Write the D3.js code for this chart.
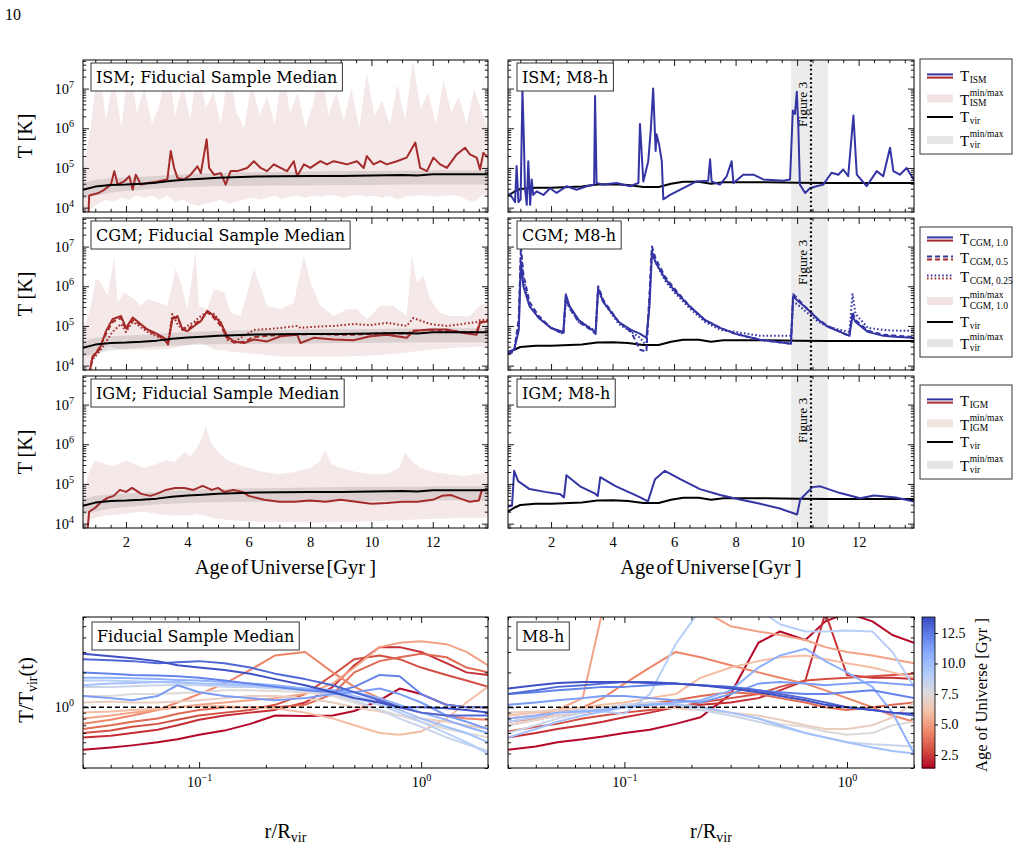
<!DOCTYPE html>
<html>
<head>
<meta charset="utf-8">
<script src="https://cdn.jsdelivr.net/npm/d3@7"></script>
<style>
  body { margin: 0; background: #fff; }
  svg text { font-family: "Liberation Serif", "Times New Roman", serif; fill: #000; }
</style>
</head>
<body>
<svg id="fig" width="1023" height="855"></svg>
<script>
// ---- data (temperatures stored as log10 T [K]) ----
const ismBandAge = [0.6,0.85,1.1,1.35,1.6,1.85,2.1,2.35,2.6,2.85,3.1,3.35,3.6,3.85,4.1,4.35,4.6,4.85,5.1,5.35,5.6,5.85,6.1,6.35,6.6,6.85,7.1,7.35,7.6,7.85,8.1,8.35,8.6,8.85,9.1,9.35,9.6,9.85,10.1,10.35,10.6,10.85,11.1,11.35,11.6,11.85,12.1,12.35,12.6,12.85,13.1,13.35,13.6,13.8];
const ismBandHi = [5.0,6.0,7.7,6.2,7.3,6.0,7.7,6.4,7.0,6.1,6.6,7.7,6.3,7.1,6.2,7.7,6.5,6.9,6.1,7.6,6.4,6.0,7.2,6.3,6.8,6.1,7.5,6.4,6.9,6.0,6.6,7.7,6.3,6.9,6.2,7.0,6.0,7.4,6.3,6.7,6.1,7.1,6.2,7.7,6.5,6.9,6.1,7.2,6.4,6.8,6.1,7.0,6.4,6.0];
const ismBandLo = [3.88,3.95,4.1,4.2,4.15,4.25,4.2,4.3,4.25,4.3,4.2,4.3,4.15,4.2,4.1,4.05,4.1,4.15,4.2,4.1,4.15,4.2,4.25,4.2,4.25,4.3,4.22,4.28,4.3,4.25,4.3,4.28,4.32,4.3,4.25,4.3,4.32,4.28,4.3,4.25,4.3,4.2,4.28,4.3,4.32,4.3,4.28,4.3,4.32,4.3,4.2,4.15,4.3,4.32];
const ismFidAge = [0.78,0.8,0.86,1.08,1.29,1.51,1.62,1.73,1.94,2.11,2.22,2.32,2.49,2.7,3.03,3.35,3.46,3.57,3.68,3.89,4.11,4.33,4.44,4.63,4.71,4.87,5.09,5.25,5.41,5.63,5.95,6.17,6.39,6.6,6.82,7.04,7.25,7.47,7.58,7.8,8.01,8.34,8.55,8.77,8.99,9.2,9.53,9.75,9.85,10.07,10.29,10.5,10.83,11.15,11.43,11.59,11.81,12.02,12.24,12.46,12.78,13.05,13.21,13.43,13.54,13.65,13.81];
const ismFidLog = [3.85,4.3,4.32,4.36,4.45,4.58,4.92,4.58,4.66,4.79,4.45,4.83,4.58,4.62,4.66,4.71,5.43,5.0,4.75,4.71,4.83,5.04,4.87,5.72,5.0,4.83,4.87,4.58,4.92,4.92,5.0,5.17,5.0,4.92,5.09,5.0,4.92,5.17,4.79,5.09,5.0,5.17,5.09,5.17,5.13,5.09,5.17,5.0,5.3,5.09,5.17,5.09,5.17,5.26,5.64,5.0,4.92,5.26,5.09,5.0,5.34,5.51,5.34,5.26,4.96,5.38,5.26];

const cgmBandAge = [0.6,0.75,0.86,1.02,1.18,1.4,1.62,1.73,1.94,2.27,2.49,2.7,3.03,3.35,3.62,3.79,4.0,4.27,4.38,4.65,4.87,5.2,5.41,5.74,6.17,6.6,7.04,7.47,7.8,8.01,8.34,8.77,9.2,9.53,9.85,10.29,10.72,11.15,11.32,11.48,11.7,11.91,12.24,12.56,12.89,13.21,13.54,13.81];
const cgmBandHi = [4.9,5.2,5.51,6.19,6.1,5.76,6.74,5.59,5.84,5.68,5.51,5.68,5.59,5.51,6.44,6.1,5.42,6.87,5.51,5.42,5.93,5.84,5.33,5.25,6.44,5.51,5.42,5.59,6.78,6.1,5.51,5.25,5.42,5.42,5.17,5.51,5.51,5.25,6.78,6.1,6.27,5.68,5.33,5.25,5.25,5.25,5.51,5.59];
const cgmBandLo = [3.8,3.8,4.1,4.23,4.35,4.48,4.45,4.42,4.4,4.4,4.4,4.4,4.4,4.42,4.45,4.48,4.5,4.55,4.57,4.5,4.4,4.38,4.35,4.33,4.3,4.27,4.23,4.23,4.23,4.23,4.23,4.23,4.23,4.24,4.25,4.27,4.3,4.33,4.35,4.36,4.38,4.4,4.42,4.44,4.46,4.47,4.48,4.48];
const cgmFidAge = [0.81,0.91,1.13,1.35,1.56,1.84,2.0,2.22,2.43,2.7,2.97,3.24,3.37,3.51,3.68,3.84,4.0,4.22,4.44,4.65,4.87,5.09,5.3,5.52,5.85,6.17,6.6,7.04,7.58,7.69,8.12,8.77,9.42,9.96,10.5,11.15,11.37,11.91,12.46,13.0,13.43,13.54,13.81];
const cgmFid10 = [3.8,4.23,4.4,4.87,5.17,5.25,4.95,5.21,5.08,4.91,4.82,4.7,4.53,5.17,5.25,4.91,4.87,5.0,5.12,5.38,5.25,5.08,4.74,4.61,4.57,4.66,4.61,4.74,4.78,4.57,4.7,4.66,4.64,4.74,4.78,4.7,4.87,4.91,4.91,4.82,4.78,5.08,5.12];
const cgmFid05 = [3.8,4.2,4.45,4.8,5.1,5.2,4.9,5.15,5.05,4.9,4.78,4.68,4.55,5.2,5.2,4.95,4.9,5.05,5.15,5.35,5.2,5.0,4.7,4.58,4.6,4.72,4.75,4.78,4.8,4.78,4.8,4.78,4.78,4.8,4.82,4.8,4.88,4.9,4.88,4.85,4.85,5.1,5.12];
const cgmFid025 = [3.8,4.15,4.35,4.6,4.85,5.05,4.85,5.1,5.0,4.85,4.75,4.65,4.55,5.3,5.05,4.9,5.0,5.1,5.25,5.35,5.3,5.1,4.65,4.6,4.75,4.9,4.92,4.95,5.0,4.95,4.98,5.0,5.05,5.02,5.08,5.0,5.2,5.05,5.0,5.05,5.1,5.15,5.15];

const igmBandAge = [0.6,0.7,0.8,1.0,1.3,1.6,2.0,2.3,2.6,3.0,3.3,3.6,3.9,4.1,4.3,4.45,4.6,4.8,5.0,5.3,5.6,6.0,6.5,7.0,7.5,8.0,8.3,8.5,8.7,9.0,9.5,10.0,10.5,10.9,11.1,11.3,11.6,12.0,12.5,13.0,13.5,13.8];
const igmBandHi = [4.5,5.0,5.3,5.6,5.5,5.45,5.6,5.5,5.4,5.5,5.6,5.55,5.8,5.7,5.9,6.1,6.45,6.0,5.8,5.6,5.5,5.4,5.3,5.25,5.3,5.4,5.55,5.85,5.5,5.4,5.3,5.25,5.25,5.4,5.8,5.6,5.4,5.3,5.25,5.2,5.25,5.3];
const igmBandLo = [3.85,4.0,4.1,4.15,4.2,4.22,4.25,4.28,4.3,4.25,4.22,4.2,4.22,4.2,4.25,4.22,4.2,4.15,4.12,4.1,4.08,4.06,4.05,4.04,4.04,4.03,4.03,4.04,4.04,4.04,4.05,4.06,4.07,4.08,4.09,4.1,4.11,4.12,4.13,4.15,4.15,4.16];
const igmFidAge = [0.75,0.8,0.9,1.0,1.2,1.4,1.6,1.8,2.0,2.2,2.5,2.8,3.0,3.3,3.6,3.9,4.2,4.5,4.8,5.0,5.2,5.5,5.8,6.0,6.5,7.0,7.5,8.0,8.5,9.0,9.5,10.0,10.5,11.0,11.5,12.0,12.3,12.6,12.9,13.2,13.5,13.6,13.8];
const igmFidLog = [3.85,4.3,4.35,4.4,4.55,4.65,4.7,4.85,4.8,4.9,4.75,4.7,4.75,4.85,4.9,4.9,4.85,4.95,4.85,4.9,4.8,4.85,4.8,4.7,4.6,4.55,4.55,4.58,4.55,4.6,4.55,4.5,4.52,4.55,4.55,4.6,4.7,4.72,4.63,4.55,4.58,4.85,4.85];

const tvirFidAge = [0.6,1.0,1.5,2.0,2.5,3.0,3.5,4.0,4.5,5.0,6.0,7.0,8.0,9.0,10.0,11.0,11.5,12.0,13.0,13.8];
const tvirFidLog = [4.45,4.53,4.57,4.58,4.6,4.63,4.68,4.71,4.73,4.75,4.78,4.79,4.8,4.8,4.81,4.82,4.81,4.84,4.84,4.84];
const tvirFidLo = [4.22,4.3,4.38,4.42,4.45,4.48,4.5,4.52,4.53,4.54,4.55,4.56,4.56,4.57,4.57,4.58,4.58,4.58,4.58,4.58];
const tvirFidHi = [4.62,4.7,4.74,4.76,4.78,4.8,4.83,4.85,4.86,4.87,4.89,4.9,4.91,4.92,4.92,4.93,4.93,4.94,4.94,4.94];

const tvirM8Age = [0.6,0.8,1.0,1.5,2.0,3.0,3.5,4.0,4.5,5.0,5.5,5.9,6.3,6.8,7.2,7.6,8.0,9.0,10.0,11.0,12.0,13.0,13.8];
const tvirM8Log = [4.3,4.4,4.47,4.5,4.5,4.53,4.58,4.59,4.57,4.52,4.52,4.6,4.65,4.65,4.6,4.64,4.64,4.64,4.63,4.62,4.62,4.62,4.62];

const ismM8Age = [0.64,0.83,0.88,0.94,1.01,1.07,1.12,1.15,1.21,1.26,1.32,1.37,1.42,1.53,1.75,1.97,2.18,2.51,2.83,3.16,3.4,3.43,3.48,3.7,4.13,4.57,4.84,4.89,5.0,5.16,5.24,5.32,5.4,5.43,5.51,5.6,5.65,5.87,6.3,6.73,7.11,7.17,7.22,7.49,7.71,7.87,7.93,8.25,8.58,8.9,9.55,9.77,9.86,9.93,9.99,10.04,10.09,10.26,10.42,10.63,10.85,11.12,11.34,11.5,11.66,11.83,11.94,12.26,12.59,12.8,13.02,13.13,13.34,13.56,13.8];
const ismM8Log = [4.37,4.14,5.05,4.14,4.21,6.96,5.6,4.49,4.07,5.17,4.07,4.71,4.32,4.41,4.32,4.49,4.37,4.54,4.45,4.54,4.58,6.81,4.62,4.58,4.62,4.54,4.62,6.11,4.66,5.17,5.94,7.0,5.43,5.85,5.6,5.17,4.21,4.32,4.49,4.66,4.68,5.22,4.66,4.58,4.79,5.17,4.62,4.83,4.83,4.71,4.68,4.71,6.45,6.36,6.92,6.02,4.58,4.37,4.49,4.54,4.58,4.88,4.83,4.96,4.79,6.32,4.83,4.54,4.92,4.79,5.51,4.92,4.83,5.0,4.7];

const cgmM8Age = [0.6,0.8,0.95,1.02,1.1,1.3,1.6,2.0,2.4,2.48,2.6,2.9,3.3,3.45,3.53,3.7,4.2,4.6,4.9,5.1,5.2,5.28,5.4,5.7,6.0,6.5,7.0,7.5,8.0,8.8,9.5,9.8,9.87,10.0,10.3,10.7,11.0,11.4,11.7,11.8,11.9,12.3,12.8,13.3,13.8];
const cgmM810 = [4.35,4.4,4.9,6.6,6.0,5.5,5.2,4.95,4.85,5.8,5.5,5.15,4.92,4.85,5.95,5.6,5.1,4.9,4.8,4.7,5.5,6.85,6.6,6.2,5.9,5.5,5.15,4.95,4.8,4.65,4.58,4.55,5.75,5.65,5.45,5.15,4.98,4.85,4.75,5.25,5.1,4.85,4.75,4.72,4.7];
const cgmM805 = [4.3,4.35,5.2,7.0,6.3,5.6,5.25,4.95,4.8,5.7,5.45,5.1,4.9,4.8,6.0,5.65,5.1,4.85,4.4,4.35,5.8,7.0,6.7,6.25,5.95,5.5,5.15,4.95,4.8,4.65,4.58,4.55,5.8,5.7,5.45,5.15,5.0,4.85,4.75,5.35,5.15,4.88,4.78,4.75,4.72];
const cgmM8025 = [4.3,4.4,5.0,6.8,6.2,5.5,5.2,4.95,4.8,5.65,5.45,5.1,4.95,4.85,5.9,5.6,5.05,4.85,4.7,4.5,5.7,6.9,6.6,6.15,5.85,5.45,5.1,4.9,4.85,4.75,4.75,4.75,5.6,5.55,5.35,5.1,4.98,4.9,4.85,5.8,5.3,4.95,4.9,4.88,4.88];

const igmM8Age = [0.6,0.73,0.8,0.93,1.3,1.8,2.3,2.42,2.5,2.94,3.4,3.52,3.6,4.08,4.9,5.15,5.38,5.7,6.2,6.84,7.5,8.14,8.8,9.44,10.0,10.1,10.5,10.75,11.4,12.05,12.5,13.2,13.8];
const igmM8Log = [4.43,4.45,5.33,5.07,4.87,4.8,4.74,4.66,5.22,4.94,4.77,4.7,5.17,4.95,4.66,4.56,5.12,5.33,5.12,4.87,4.72,4.61,4.5,4.38,4.23,4.61,4.92,4.94,4.77,4.64,4.71,4.66,4.56];

const fig3Band = [9.8, 11.0];
const fig3Age = 10.45;

// radial profiles: T / Tvir(t) at these r / Rvir
const rGrid = [0.03,0.04,0.05,0.065,0.08,0.1,0.13,0.17,0.22,0.3,0.4,0.5,0.65,0.8,1.0,1.3,1.6,2.0];
const profAges = [1.5,2.3,3.0,3.7,4.4,5.2,6.0,6.8,7.5,8.3,9.0,9.8,10.6,11.4,12.2,13.0,13.7];
const profFid = [
  [0.43,0.45,0.47,0.5,0.53,0.58,0.63,0.72,0.85,0.84,0.85,0.93,1.15,1.45,1.3,1.05,1.0,1.0],
  [0.55,0.57,0.6,0.64,0.7,0.78,0.85,0.9,0.95,1.1,1.5,2.3,3.3,3.3,3.0,2.4,2.0,1.9],
  [0.6,0.63,0.68,0.72,0.78,0.85,0.9,0.95,1.05,1.3,1.9,2.6,2.8,2.6,2.2,1.9,1.7,1.5],
  [0.65,0.7,0.75,0.8,0.88,0.95,1.0,1.0,1.0,1.05,1.3,2.0,2.5,2.7,2.9,2.7,2.2,2.0],
  [0.72,0.78,0.85,0.95,1.1,1.3,1.6,2.1,2.8,3.0,2.0,1.5,1.2,1.0,0.9,0.85,0.8,0.78],
  [0.8,0.85,0.9,0.95,1.0,1.05,1.1,1.15,1.2,1.3,1.6,2.2,3.3,3.6,3.7,3.5,3.0,2.3],
  [0.9,0.92,0.95,0.97,1.0,1.02,1.02,1.0,0.98,0.9,0.8,0.7,0.6,0.58,0.62,0.8,1.1,1.5],
  [1.1,1.12,1.1,1.1,1.12,1.15,1.2,1.25,1.25,1.2,1.1,1.0,0.92,0.85,0.8,0.75,0.7,0.65],
  [1.25,1.25,1.3,1.3,1.32,1.35,1.4,1.4,1.38,1.35,1.25,1.1,0.95,0.85,0.75,0.65,0.6,0.55],
  [1.5,1.5,1.52,1.55,1.55,1.55,1.5,1.5,1.45,1.4,1.3,1.15,0.95,0.8,0.68,0.55,0.48,0.42],
  [1.7,1.7,1.68,1.65,1.62,1.6,1.55,1.5,1.5,1.45,1.35,1.2,1.05,0.9,0.75,0.6,0.5,0.4],
  [1.55,1.6,1.62,1.65,1.65,1.6,1.58,1.55,1.5,1.45,1.4,1.25,1.1,0.95,0.8,0.68,0.6,0.5],
  [1.8,1.8,1.78,1.75,1.72,1.7,1.65,1.6,1.55,1.45,1.4,1.35,1.2,1.05,0.9,0.78,0.68,0.6],
  [1.25,1.2,1.15,1.25,1.55,1.35,1.25,1.2,1.15,1.2,1.3,1.35,1.45,1.3,1.1,0.85,0.75,0.65],
  [2.0,1.95,1.9,1.88,1.85,1.8,1.7,1.6,1.5,1.4,1.35,1.5,1.9,1.85,1.3,1.05,1.0,1.0],
  [2.6,2.55,2.5,2.4,2.45,2.5,2.4,2.2,1.95,1.75,1.55,1.35,1.15,1.0,0.9,0.85,0.85,0.85],
  [2.9,2.75,2.65,2.5,2.3,2.2,2.1,1.95,1.75,1.55,1.35,1.2,1.1,1.0,1.0,0.98,0.95,0.9]
];
const profM8 = [
  [0.43,0.46,0.5,0.53,0.56,0.6,0.64,0.72,0.82,1.3,3.6,4.5,3.8,5.5,6.5,5.5,4.2,3.6],
  [0.55,0.6,0.65,0.7,0.75,0.82,0.9,1.0,1.05,1.1,1.2,1.4,1.7,6.5,1.9,1.8,1.8,1.75],
  [0.62,0.68,0.72,0.8,0.85,0.9,0.95,1.0,1.1,1.2,1.3,1.5,1.7,1.75,1.8,1.85,1.9,1.95],
  [0.7,0.78,0.85,0.9,0.95,1.0,1.08,1.15,1.25,1.35,1.3,1.2,1.1,1.0,0.95,1.0,1.05,1.1],
  [0.75,0.8,0.9,1.0,1.2,1.6,2.2,3.0,2.7,2.3,2.0,1.8,1.6,1.4,1.2,1.0,0.85,0.75],
  [0.8,0.85,0.95,1.2,7,7,7,7,7,5.0,4.5,4.2,3.8,3.3,3.0,2.8,2.6,2.4],
  [0.85,0.9,0.95,1.0,1.05,1.1,1.2,1.3,1.8,2.2,2.5,2.7,2.8,2.6,2.4,2.2,2.0,1.8],
  [0.9,0.92,0.95,0.98,1.0,1.02,1.0,0.98,0.95,0.9,0.85,0.78,0.7,0.65,0.65,0.7,0.82,1.1],
  [0.7,0.78,0.85,0.92,0.98,1.05,1.1,1.08,1.0,0.9,0.8,0.72,0.68,0.62,0.58,0.6,0.7,0.75],
  [0.6,0.7,0.8,0.9,0.98,1.05,1.1,1.05,0.95,0.85,0.75,0.68,0.6,0.55,0.5,0.48,0.47,0.46],
  [0.75,0.82,0.9,0.95,0.92,0.88,1.3,3.5,7,7,7,5.2,4.5,4.5,4.6,4.5,3.0,1.5],
  [0.55,0.65,0.75,0.85,0.92,1.0,1.05,1.05,1.0,0.9,0.8,0.7,0.6,0.55,0.5,0.45,0.42,0.4],
  [0.8,0.85,0.9,0.92,0.95,1.0,1.05,1.1,1.15,1.4,2.2,2.8,3.2,2.5,2.0,1.5,0.9,0.4],
  [1.05,1.1,1.15,1.2,1.25,1.25,1.2,1.15,1.1,1.3,1.6,1.65,1.6,1.55,1.6,1.65,1.6,1.55],
  [1.3,1.35,1.4,1.45,1.5,1.5,1.55,1.6,1.55,1.5,1.4,1.35,1.3,1.3,1.35,1.4,1.3,1.2],
  [1.3,1.4,1.5,1.55,1.6,1.65,1.65,1.6,1.55,1.5,1.4,1.3,1.2,1.1,1.0,0.95,0.9,0.85],
  [1.45,1.55,1.62,1.65,1.65,1.65,1.62,1.6,1.55,1.45,1.35,1.25,1.15,1.05,1.0,0.95,0.9,0.88]
];
const cbarTicks = [2.5, 5.0, 7.5, 10.0, 12.5];
const coolwarmR = ["#b40426","#d44e41","#ef8a6c","#f5c0a6","#dddcdc","#b3cdfb","#8db0fe","#6282ea","#3b4cc0"];

// ---- layout ----
const svg = d3.select("#fig");
const SERIF = '"Liberation Serif", "Times New Roman", serif';
const DVS = '"DejaVu Serif", serif';
const colL = [83, 488], colR = [508, 914];
const rowTop = [60, 218, 376], rowH = 152;
const botTop = 617, botH = 151;
const RED = "#a52a2a", BLUE = "#3434a4";
const TICK_FS = 14.5;
const P = v => 10 ** v;
const ageMaj = [2, 4, 6, 8, 10, 12];
const ageMin = d3.range(1, 13.8, 0.5).filter(v => v % 2 !== 0);

svg.append("text").attr("x", 5).attr("y", 20).attr("font-size", 16).text("10");

function pow10(sel, fs) {
  sel.each(function (d) {
    const e = Math.round(Math.log10(d));
    const t = d3.select(this).text(null);
    t.append("tspan").text("10");
    t.append("tspan").attr("font-size", fs * 0.7).attr("dy", -fs * 0.42).text(e < 0 ? "\u2212" + (-e) : e);
  });
}

function axes(g, x, y, o) {
  const [x0, x1] = x.range(), [yb, yt] = y.range();
  const mk = (axis, tx, ty, labels) => {
    const a = g.append("g").attr("transform", `translate(${tx},${ty})`).call(axis);
    a.select(".domain").remove();
    a.selectAll(".tick line").attr("stroke", "#000").attr("stroke-width", 0.9);
    a.attr("font-family", SERIF).attr("font-size", TICK_FS);
    a.selectAll(".tick text").attr("fill", "#000");
    if (!labels) a.selectAll(".tick text").remove();
    return a;
  };
  const M = 6, m = 3.2;
  const xb = mk(d3.axisBottom(x).tickValues(o.xMaj).tickSize(-M).tickPadding(9).tickFormat(o.xFmt || d3.format("d")), 0, yb, o.xLab);
  mk(d3.axisBottom(x).tickValues(o.xMin).tickSize(-m), 0, yb, false);
  mk(d3.axisTop(x).tickValues(o.xMaj).tickSize(-M), 0, yt, false);
  mk(d3.axisTop(x).tickValues(o.xMin).tickSize(-m), 0, yt, false);
  const yl = mk(d3.axisLeft(y).tickValues(o.yMaj).tickSize(-M).tickPadding(9), x0, 0, o.yLab);
  mk(d3.axisLeft(y).tickValues(o.yMin).tickSize(-m), x0, 0, false);
  mk(d3.axisRight(y).tickValues(o.yMaj).tickSize(-M), x1, 0, false);
  mk(d3.axisRight(y).tickValues(o.yMin).tickSize(-m), x1, 0, false);
  if (o.xLab && o.xPow) pow10(xb.selectAll(".tick text"), TICK_FS);
  if (o.yLab) pow10(yl.selectAll(".tick text"), TICK_FS);
  g.append("rect").attr("x", x0).attr("y", yt).attr("width", x1 - x0).attr("height", yb - yt)
    .attr("fill", "none").attr("stroke", "#000").attr("stroke-width", 1);
}

function labelBox(g, x, y, text) {
  const b = g.append("g");
  const r = b.append("rect").attr("x", x).attr("y", y).attr("height", 28)
    .attr("fill", "#fff").attr("stroke", "#333").attr("stroke-width", 1);
  const t = b.append("text").attr("x", x + 5).attr("y", y + 20)
    .attr("font-size", 16).style("font-family", DVS).text(text);
  r.attr("width", t.node().getComputedTextLength() + 10);
}

let clipN = 0;
function panel(col, top, h) {
  const id = "clip" + (clipN++);
  svg.append("clipPath").attr("id", id).append("rect")
    .attr("x", col[0]).attr("y", top).attr("width", col[1] - col[0]).attr("height", h);
  const g = svg.append("g");
  const d = g.append("g").attr("clip-path", `url(#${id})`);
  return { g, d };
}

const bandPath = (x, y, ages, lo, hi) => d3.area()
  .x((_, i) => x(ages[i])).y0((_, i) => y(P(lo[i]))).y1((_, i) => y(P(hi[i])))(ages);
const linePath = (x, y, ages, vals) => d3.line()
  .x((_, i) => x(ages[i])).y((_, i) => y(P(vals[i])))(ages);

function addLine(d, path, color, dash, w) {
  d.append("path").attr("d", path).attr("fill", "none").attr("stroke", color)
    .attr("stroke-width", w || 2).attr("stroke-dasharray", dash || null)
    .attr("stroke-linejoin", "round");
}

const fidRows = [
  { name: "ISM", band: [ismBandAge, ismBandLo, ismBandHi], lines: [[ismFidAge, ismFidLog, null]] },
  { name: "CGM", band: [cgmBandAge, cgmBandLo, cgmBandHi],
    lines: [[cgmFidAge, cgmFid10, null], [cgmFidAge, cgmFid05, "5,3"], [cgmFidAge, cgmFid025, "1.6,2.2"]] },
  { name: "IGM", band: [igmBandAge, igmBandLo, igmBandHi], lines: [[igmFidAge, igmFidLog, null]] }
];
const m8Rows = [
  { name: "ISM", lines: [[ismM8Age, ismM8Log, null]] },
  { name: "CGM", lines: [[cgmM8Age, cgmM810, null], [cgmM8Age, cgmM805, "5,3"], [cgmM8Age, cgmM8025, "1.6,2.2"]] },
  { name: "IGM", lines: [[igmM8Age, igmM8Log, null]] }
];

const tMaj = [1e4, 1e5, 1e6, 1e7];
rowTop.forEach((top, ri) => {
  const y = d3.scaleLog().domain([P(3.89), P(7.72)]).range([top + rowH, top]);
  const tMin = y.ticks().filter(v => !tMaj.includes(v));
  // fiducial median (left)
  {
    const x = d3.scaleLinear().domain([0.6, 13.8]).range(colL);
    const { g, d } = panel(colL, top, rowH);
    const r = fidRows[ri];
    d.append("path").attr("d", bandPath(x, y, ...r.band)).attr("fill", RED).attr("fill-opacity", 0.11);
    d.append("path").attr("d", bandPath(x, y, tvirFidAge, tvirFidLo, tvirFidHi)).attr("fill", "#000").attr("fill-opacity", 0.1);
    r.lines.forEach(([a, v, dash]) => addLine(d, linePath(x, y, a, v), RED, dash));
    addLine(d, linePath(x, y, tvirFidAge, tvirFidLog), "#000", null, 2);
    axes(g, x, y, { xMaj: ageMaj, xMin: ageMin, yMaj: tMaj, yMin: tMin, xLab: ri === 2, yLab: true });
    labelBox(g, colL[0] + 8, top + 3, `${r.name}; Fiducial Sample Median`);
  }
  // M8-h (right)
  {
    const x = d3.scaleLinear().domain([0.6, 13.8]).range(colR);
    const { g, d } = panel(colR, top, rowH);
    const r = m8Rows[ri];
    d.append("rect").attr("x", x(fig3Band[0])).attr("y", top).attr("width", x(fig3Band[1]) - x(fig3Band[0]))
      .attr("height", rowH).attr("fill", "#ececec");
    d.append("text").attr("transform", `translate(${x(fig3Age) - 4},${top + 67}) rotate(-90)`)
      .attr("font-size", 13.5).text("Figure 3");
    addLine(d, linePath(x, y, tvirM8Age, tvirM8Log), "#000", null, 2);
    r.lines.forEach(([a, v, dash]) => addLine(d, linePath(x, y, a, v), BLUE, dash));
    d.append("line").attr("x1", x(fig3Age)).attr("x2", x(fig3Age)).attr("y1", top).attr("y2", top + rowH)
      .attr("stroke", "#000").attr("stroke-width", 2.2).attr("stroke-dasharray", "1.8,2.6");
    axes(g, x, y, { xMaj: ageMaj, xMin: ageMin, yMaj: tMaj, yMin: tMin, xLab: ri === 2, yLab: false });
    labelBox(g, colR[0] + 9, top + 3, `${r.name}; M8-h`);
  }
  svg.append("text").attr("transform", `translate(32,${top + rowH / 2}) rotate(-90)`)
    .attr("text-anchor", "middle").attr("font-size", 20).text("T [K]");
});

[colL, colR].forEach(col => {
  svg.append("text").attr("x", (col[0] + col[1]) / 2).attr("y", 574).attr("text-anchor", "middle")
    .attr("font-size", 20.5).attr("word-spacing", -3).text("Age of Universe [Gyr\u00a0\u00a0]");
});

// ---- legends ----
function mathT(g, x, base, sub, sup) {
  const t = g.append("text").attr("x", x).attr("y", base).attr("font-size", 15).text("T");
  const w = t.node().getComputedTextLength() + 0.5;
  g.append("text").attr("x", x + w).attr("y", base + (sup ? 1.8 : 2)).attr("font-size", 9.5).text(sub);
  if (sup) g.append("text").attr("x", x + w).attr("y", base - 9).attr("font-size", 9.5).text(sup);
}
function legend(y0, h, entries) {
  const g = svg.append("g");
  g.append("rect").attr("x", 920).attr("y", y0).attr("width", 92).attr("height", h)
    .attr("fill", "#fff").attr("stroke", "#333").attr("stroke-width", 1);
  entries.forEach(e => {
    if (e.kind === "pair") {
      g.append("line").attr("x1", 927).attr("x2", 953).attr("y1", e.cy - 1.6).attr("y2", e.cy - 1.6)
        .attr("stroke", BLUE).attr("stroke-width", 2).attr("stroke-dasharray", e.dash || null);
      g.append("line").attr("x1", 927).attr("x2", 953).attr("y1", e.cy + 1.6).attr("y2", e.cy + 1.6)
        .attr("stroke", RED).attr("stroke-width", 2).attr("stroke-dasharray", e.dash || null);
      mathT(g, 960, e.cy + 4.5, e.sub);
    } else if (e.kind === "line") {
      g.append("line").attr("x1", 927).attr("x2", 953).attr("y1", e.cy).attr("y2", e.cy)
        .attr("stroke", "#000").attr("stroke-width", 2);
      mathT(g, 960, e.cy + 5, e.sub);
    } else {
      g.append("rect").attr("x", 927).attr("y", e.cy - 4).attr("width", 26).attr("height", 8).attr("fill", e.fill);
      mathT(g, 960, e.cy + 6, e.sub, "min/max");
    }
  });
}
const PINKP = "#f2e3e3", GREYP = "#e5e5e5";
legend(59, 95, [
  { kind: "pair", cy: 76, sub: "ISM" },
  { kind: "patch", cy: 98.5, sub: "ISM", fill: PINKP },
  { kind: "line", cy: 117, sub: "vir" },
  { kind: "patch", cy: 140, sub: "vir", fill: GREYP }
]);
legend(227, 130, [
  { kind: "pair", cy: 239, sub: "CGM, 1.0" },
  { kind: "pair", cy: 258, sub: "CGM, 0.5", dash: "5,3" },
  { kind: "pair", cy: 277, sub: "CGM, 0.25", dash: "1.6,2.2" },
  { kind: "patch", cy: 301, sub: "CGM, 1.0", fill: PINKP },
  { kind: "line", cy: 322, sub: "vir" },
  { kind: "patch", cy: 343, sub: "vir", fill: GREYP }
]);
legend(385, 94, [
  { kind: "pair", cy: 401, sub: "IGM" },
  { kind: "patch", cy: 423.5, sub: "IGM", fill: PINKP },
  { kind: "line", cy: 442, sub: "vir" },
  { kind: "patch", cy: 465, sub: "vir", fill: GREYP }
]);

// ---- radial profile panels ----
const ageDomCb = [1.43, 13.81];
const ageColor = d3.scaleLinear()
  .domain(coolwarmR.map((_, i) => ageDomCb[0] + i * (ageDomCb[1] - ageDomCb[0]) / (coolwarmR.length - 1)))
  .range(coolwarmR).interpolate(d3.interpolateRgb);

[[colL, profFid, "Fiducial Sample Median"], [colR, profM8, "M8-h"]].forEach(([col, profs, label], ci) => {
  const x = d3.scaleLog().domain([0.03, 2]).range(col);
  const y = d3.scaleLog().domain([0.3, 6]).range([botTop + botH, botTop]);
  const { g, d } = panel(col, botTop, botH);
  const line = d3.line().x((_, i) => x(rGrid[i])).y(v => y(v));
  profs.forEach((p, k) => {
    d.append("path").attr("d", line(p)).attr("fill", "none").attr("stroke", ageColor(profAges[k]))
      .attr("stroke-width", 2).attr("stroke-linejoin", "round");
  });
  d.append("line").attr("x1", col[0]).attr("x2", col[1]).attr("y1", y(1)).attr("y2", y(1))
    .attr("stroke", "#000").attr("stroke-width", 1.5).attr("stroke-dasharray", "5,3");
  axes(g, x, y, {
    xMaj: [0.1, 1], xMin: x.ticks().filter(v => v !== 0.1 && v !== 1), xFmt: d => d, xPow: true,
    yMaj: [1], yMin: y.ticks().filter(v => v !== 1), xLab: true, yLab: ci === 0
  });
  labelBox(g, col[0] + 9, botTop + 5, label);
  const lab = svg.append("text").attr("x", (col[0] + col[1]) / 2).attr("y", 838).attr("text-anchor", "middle").attr("font-size", 20.5);
  lab.append("tspan").text("r/R");
  lab.append("tspan").attr("font-size", 14).attr("dy", 4).text("vir");
});

{
  const t = svg.append("text").attr("transform", `translate(33,690) rotate(-90)`).attr("text-anchor", "middle").attr("font-size", 20.5);
  t.append("tspan").text("T/T");
  t.append("tspan").attr("font-size", 14).attr("dy", 4).text("vir");
  t.append("tspan").attr("dy", -4).text("(t)");
}

// ---- colorbar ----
{
  const cy = d3.scaleLinear().domain(ageDomCb).range([botTop + botH, botTop]);
  const cb = svg.append("g");
  const steps = d3.range(0, 62);
  const dv = (ageDomCb[1] - ageDomCb[0]) / steps.length;
  cb.selectAll("rect.s").data(steps).join("rect").attr("class", "s")
    .attr("x", 922).attr("width", 13)
    .attr("y", i => cy(ageDomCb[0] + (i + 1) * dv)).attr("height", i => cy(ageDomCb[0] + i * dv) - cy(ageDomCb[0] + (i + 1) * dv) + 0.6)
    .attr("fill", i => ageColor(ageDomCb[0] + (i + 0.5) * dv));
  cb.append("rect").attr("x", 922).attr("y", botTop).attr("width", 13).attr("height", botH)
    .attr("fill", "none").attr("stroke", "#000").attr("stroke-width", 0.8);
  const ax = cb.append("g").attr("transform", "translate(935,0)")
    .call(d3.axisRight(cy).tickValues(cbarTicks).tickSize(3).tickPadding(3).tickFormat(d3.format(".1f")));
  ax.select(".domain").remove();
  ax.attr("font-family", SERIF).attr("font-size", 14);
  ax.selectAll("text").attr("fill", "#000");
  svg.append("text").attr("transform", `translate(987,695) rotate(-90)`).attr("text-anchor", "middle")
    .attr("font-size", 16.5).text("Age of Universe [Gyr\u00a0]");
}
</script>
</body>
</html>
